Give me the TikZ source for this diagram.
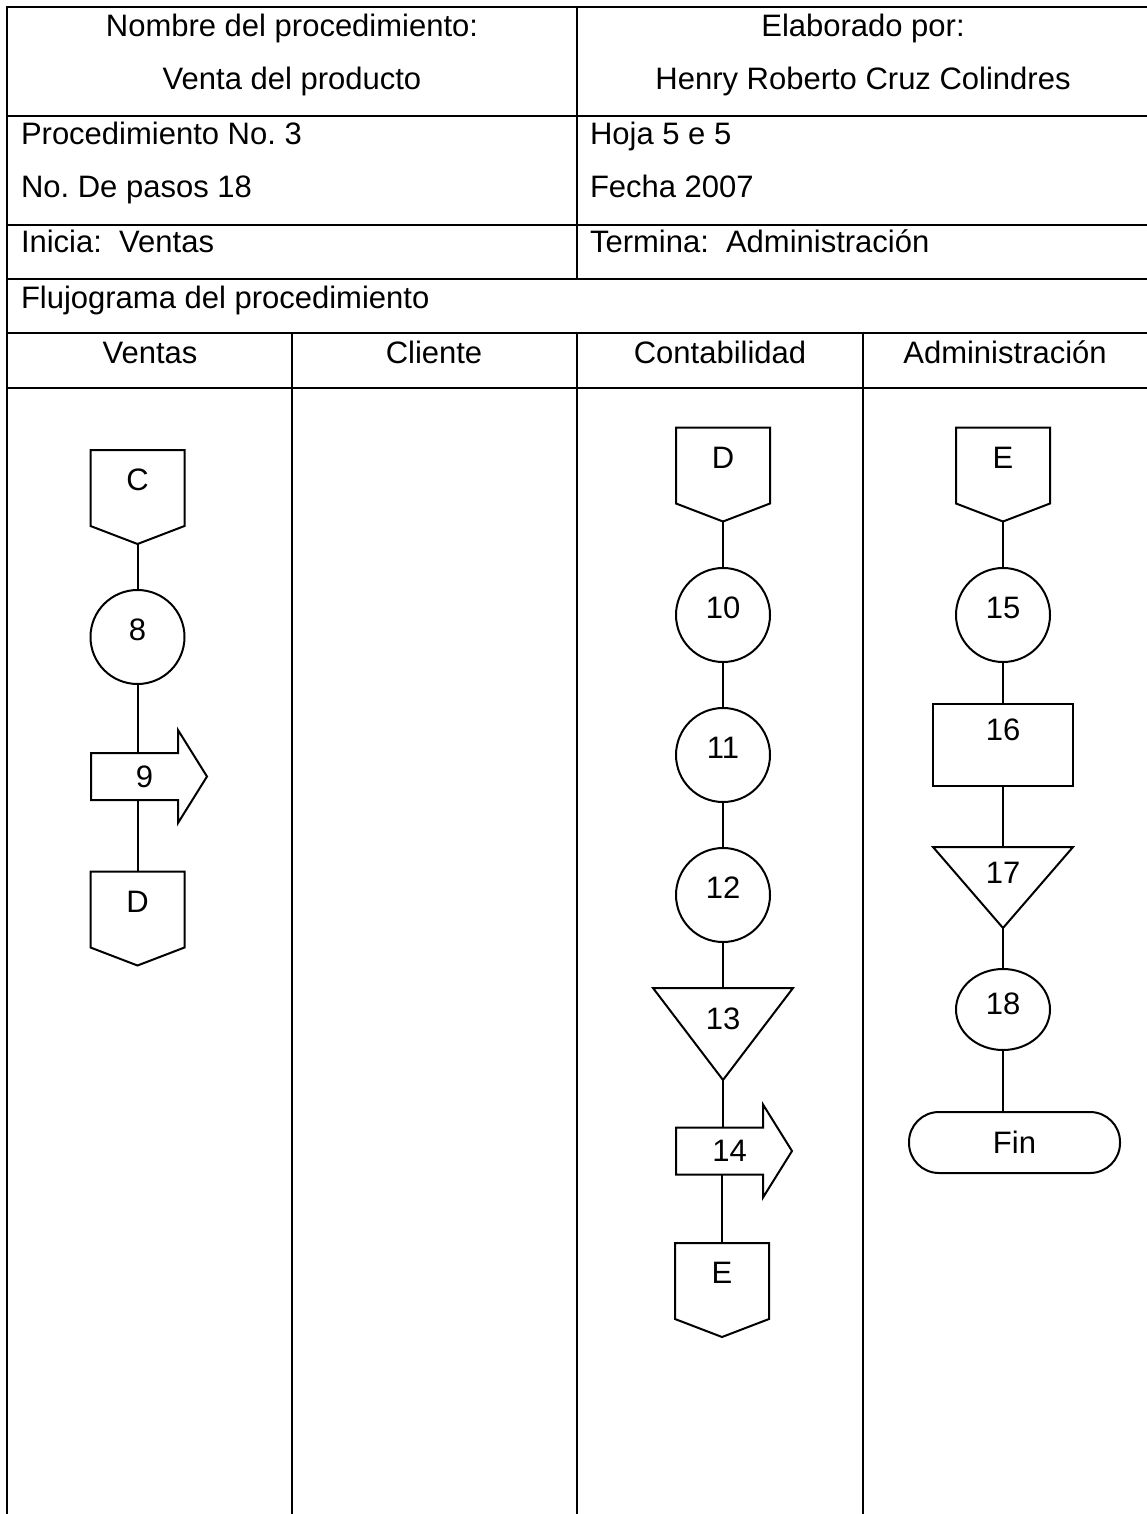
\documentclass[tikz,border=0pt]{standalone}
\usepackage{fontspec}
\setmainfont{Liberation Sans}
\usetikzlibrary{shapes.geometric}
\frenchspacing

\begin{document}
\begin{tikzpicture}[x=1pt, y=-1pt, line width=2pt,
    every node/.style={font=\fontsize{31}{37}\selectfont, inner sep=0pt, outer sep=0pt},
    marco/.style={line width=2.5pt},
    paso/.style={circle, draw, minimum size=94pt, label={[yshift=7pt]center:#1}},
    caja/.style={rectangle, draw, minimum width=140pt, minimum height=82pt, label={[yshift=15pt]center:#1}},
    conector/.style={minimum width=94pt, minimum height=94pt, label={[yshift=17pt]center:#1},
      append after command={\pgfextra{\draw (\tikzlastnode.north west) -- (\tikzlastnode.north east)
        -- ([yshift=18pt]\tikzlastnode.south east) -- (\tikzlastnode.south)
        -- ([yshift=18pt]\tikzlastnode.south west) -- cycle;}}},
    archivo/.style={minimum width=140pt, minimum height=92pt, label={[yshift=15pt]center:#1},
      append after command={\pgfextra{\draw (\tikzlastnode.north west) -- (\tikzlastnode.north east)
        -- (\tikzlastnode.south) -- cycle;}}},
    envio/.style={minimum width=87pt, minimum height=47pt, label={[xshift=10pt]center:#1},
      append after command={\pgfextra{\draw (\tikzlastnode.north west) -- (\tikzlastnode.north east)
        -- ([yshift=23pt]\tikzlastnode.north east) -- ([xshift=29pt]\tikzlastnode.east)
        -- ([yshift=-23pt]\tikzlastnode.south east) -- (\tikzlastnode.south east)
        -- (\tikzlastnode.south west) -- cycle;}}}]
  \useasboundingbox (0,0) rectangle (1146,1514);

  % marco de la hoja
  \draw[marco] (7,1520) -- (7,7) -- (1149,7) -- (1149,1520);
  \foreach \y in {116,225,279,333,388}
    \draw[marco] (7,\y) -- (1149,\y);
  \draw[marco] (577,7) -- (577,279);
  \foreach \x in {292,577,863}
    \draw[marco] (\x,333) -- (\x,1520);

  % encabezado
  \node[anchor=base] (nombre) at (292,37) {Nombre del procedimiento:};
  \node[anchor=base] (venta) at (292,90) {Venta del producto};
  \node[anchor=base] (elaborado) at (863,37) {Elaborado por:};
  \node[anchor=base] (autor) at (863,90) {Henry Roberto Cruz Colindres};
  \node[anchor=base west] (proc) at (21,145) {Procedimiento No. 3};
  \node[anchor=base west] (pasos) at (21,198) {No. De pasos 18};
  \node[anchor=base west] (hoja) at (590,145) {Hoja 5 e 5};
  \node[anchor=base west] (fecha) at (590,198) {Fecha 2007};
  \node[anchor=base west] (inicia) at (21,253) {Inicia:\ \ Ventas};
  \node[anchor=base west] (termina) at (590,253) {Termina:\ \ Administración};
  \node[anchor=base west] (flujo) at (21,308) {Flujograma del procedimiento};
  \node[anchor=base] (ventas) at (150,363) {Ventas};
  \node[anchor=base] (cliente) at (434,363) {Cliente};
  \node[anchor=base] (contab) at (720,363) {Contabilidad};
  \node[anchor=base] (admin) at (1005,363) {Administración};

  % Ventas
  \node[conector=C] (c1) at (137.5,497) {};
  \node[paso=8] (p8) at (137.5,637) {};
  \node[envio=9] (a9) at (134.5,776.5) {};
  \node[conector=D] (d1) at (137.5,918.5) {};
  \draw (c1.south) -- (p8.north);
  \draw (p8.south) -- (p8.south |- a9.north);
  \draw (d1.north |- a9.south) -- (d1.north);

  % Contabilidad
  \node[conector=D] (d2) at (723,474.5) {};
  \node[paso=10] (p10) at (723,615) {};
  \node[paso=11] (p11) at (723,755) {};
  \node[paso=12] (p12) at (723,895) {};
  \node[archivo=13] (t13) at (723,1034) {};
  \node[envio=14] (a14) at (719.5,1151) {};
  \node[conector=E] (e1) at (722,1290) {};
  \draw (d2.south) -- (p10.north);
  \draw (p10) -- (p11);
  \draw (p11) -- (p12);
  \draw (p12) -- (t13);
  \draw (t13.south) -- (t13.south |- a14.north);
  \draw (e1.north |- a14.south) -- (e1.north);

  % Administracion
  \node[conector=E] (e2) at (1003,474.5) {};
  \node[paso=15] (p15) at (1003,615) {};
  \node[caja=16] (r16) at (1003,745) {};
  \node[archivo=17, minimum height=81pt] (t17) at (1003,887.5) {};
  \node[ellipse, draw, minimum width=94pt, minimum height=81pt,
    label={[yshift=6pt]center:18}] (p18) at (1003,1009.5) {};
  \node[draw, rounded corners=30pt, minimum width=211pt, minimum height=61pt] (fin) at (1014.5,1142.5) {Fin};
  \draw (e2.south) -- (p15.north);
  \draw (p15) -- (r16);
  \draw (r16) -- (t17);
  \draw (t17.south) -- (p18.north);
  \draw (p18.south) -- (p18.south |- fin.north);
\end{tikzpicture}
\end{document}
